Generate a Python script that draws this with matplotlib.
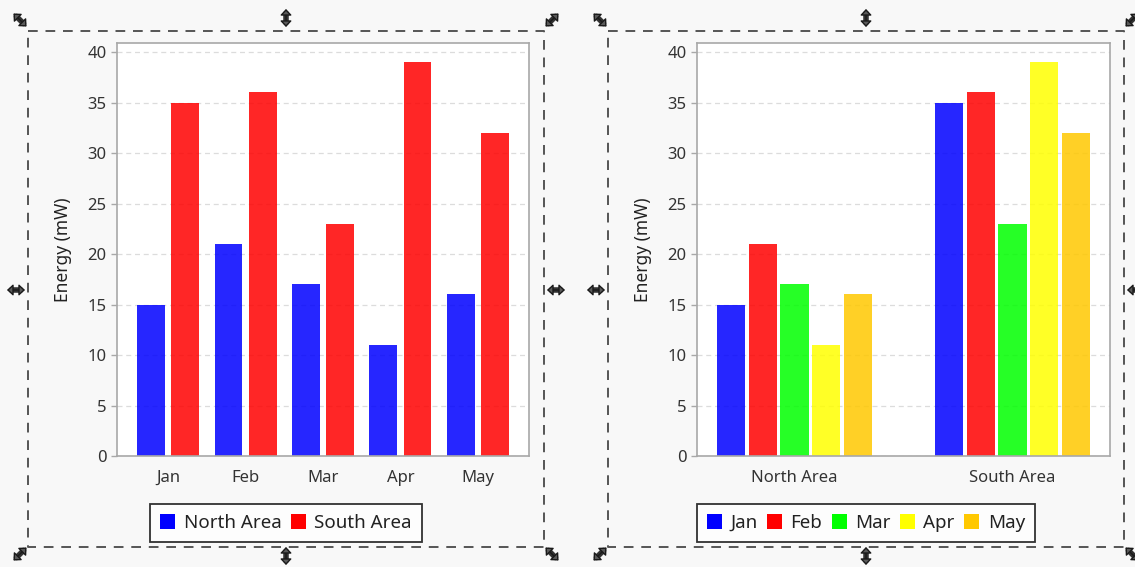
import matplotlib.pyplot as plt
import numpy as np
from matplotlib.patches import Patch, FancyArrowPatch
from matplotlib.lines import Line2D

plt.rcParams['font.family'] = ['Noto Sans', 'DejaVu Sans']

# ---------------- data
months = ['Jan', 'Feb', 'Mar', 'Apr', 'May']
areas = ['North Area', 'South Area']
north = [15, 21, 17, 11, 16]
south = [35, 36, 23, 39, 32]
month_colors = ['#0000ff', '#ff0000', '#00ff00', '#ffff00', '#ffc800']
area_colors = ['#0000ff', '#ff0000']
yticks = [0, 5, 10, 15, 20, 25, 30, 35, 40]

W, H = 1135, 567
fig = plt.figure(figsize=(W / 100, H / 100), dpi=100)
fig.patch.set_facecolor('#f8f8f8')


def fx(x):
    return x / W


def fy(y):
    return 1 - y / H


def make_axes(x0, y0, x1, y1):
    ax = fig.add_axes([fx(x0), fy(y1), fx(x1) - fx(x0), fy(y0) - fy(y1)])
    ax.set_facecolor('white')
    for s in ax.spines.values():
        s.set_color('#a8a8a8')
        s.set_linewidth(1.2)
    ax.set_ylim(0, 40.9)
    ax.set_yticks(yticks)
    ax.yaxis.grid(True, linestyle=(0, (4, 3)), color='#dcdcdc', linewidth=0.9)
    ax.set_axisbelow(True)
    ax.tick_params(axis='both', colors='#a8a8a8', labelcolor='#333333',
                   labelsize=12, length=4, width=1)
    ax.tick_params(axis='x', length=0, pad=10)
    ax.set_ylabel('Energy (mW)', fontsize=12.5, color='#222222', labelpad=11)
    return ax


# ---------------- left chart: months on x, areas as series
ax1 = make_axes(117, 43, 529, 456)
x = np.arange(len(months))
for i, (vals, col) in enumerate(zip([north, south], area_colors)):
    ax1.bar(x + (i - 0.5) * 0.44, vals, width=0.36, color=col, alpha=0.85,
            edgecolor='none')
ax1.set_xticks(x)
ax1.set_xticklabels(months)
ax1.set_xlim(-0.66, 4.66)

# ---------------- right chart: areas on x, months as series
ax2 = make_axes(697, 43, 1110, 456)
x2 = np.arange(len(areas))
by_month = list(zip(north, south))
for i, (vals, col) in enumerate(zip(by_month, month_colors)):
    ax2.bar(x2 + (i - 2) * 0.1463, vals, width=0.129, color=col, alpha=0.85,
            edgecolor='none')
ax2.set_xticks(x2)
ax2.set_xticklabels(areas)
ax2.set_xlim(-0.447, 1.447)

# ---------------- legends
def add_legend(labels, colors, cx, cy):
    handles = [Patch(facecolor=c, edgecolor='none') for c in colors]
    leg = fig.legend(handles, labels, loc='center', bbox_to_anchor=(fx(cx), fy(cy)),
                     ncol=len(labels), fontsize=13.5, frameon=True, fancybox=False,
                     handlelength=0.8, handleheight=0.8, handletextpad=0.45,
                     columnspacing=0.5, borderpad=0.55, borderaxespad=0)
    leg.get_frame().set_edgecolor('#000000')
    leg.get_frame().set_linewidth(1.3)
    for t in leg.get_texts():
        t.set_color('#222222')


add_legend(areas, area_colors, 286, 523)
add_legend(months, month_colors, 866, 523)

# ---------------- selection boxes with resize handles
def dashed_box(x0, y0, x1, y1):
    xs = [fx(x0), fx(x1), fx(x1), fx(x0), fx(x0)]
    ys = [fy(y0), fy(y0), fy(y1), fy(y1), fy(y0)]
    fig.add_artist(Line2D(xs, ys, transform=fig.transFigure, color='#555555',
                          linewidth=1.4, linestyle=(0, (5, 4))))


def handle(cx, cy, dx, dy):
    p0 = (fx(cx - dx), fy(cy - dy))
    p1 = (fx(cx + dx), fy(cy + dy))
    shaft = FancyArrowPatch(p0, p1, transform=fig.transFigure, arrowstyle='-',
                            color='#333333', linewidth=4, shrinkA=3, shrinkB=3)
    fig.add_artist(shaft)
    heads = FancyArrowPatch(p0, p1, transform=fig.transFigure,
                            arrowstyle='<|-|>,head_length=3.6,head_width=3.4',
                            facecolor='#5a5a5a', edgecolor='#1a1a1a',
                            linewidth=1.0, mutation_scale=1, shrinkA=0, shrinkB=0)
    fig.add_artist(heads)


for bx0, bx1 in [(28, 544), (608, 1124)]:
    dashed_box(bx0, 31, bx1, 547)
    mid = (bx0 + bx1) / 2
    handle(bx0 - 8, 20, 6.5, 6.5)
    handle(bx1 + 8, 20, 6.5, -6.5)
    handle(bx0 - 8, 554, 6.5, -6.5)
    handle(bx1 + 8, 554, 6.5, 6.5)
    handle(mid, 18, 0, 9)
    handle(mid, 556, 0, 9)
    handle(bx0 - 12, 290, 9, 0)
    handle(bx1 + 12, 290, 9, 0)

fig.savefig('out.png', dpi=100, facecolor=fig.get_facecolor())
